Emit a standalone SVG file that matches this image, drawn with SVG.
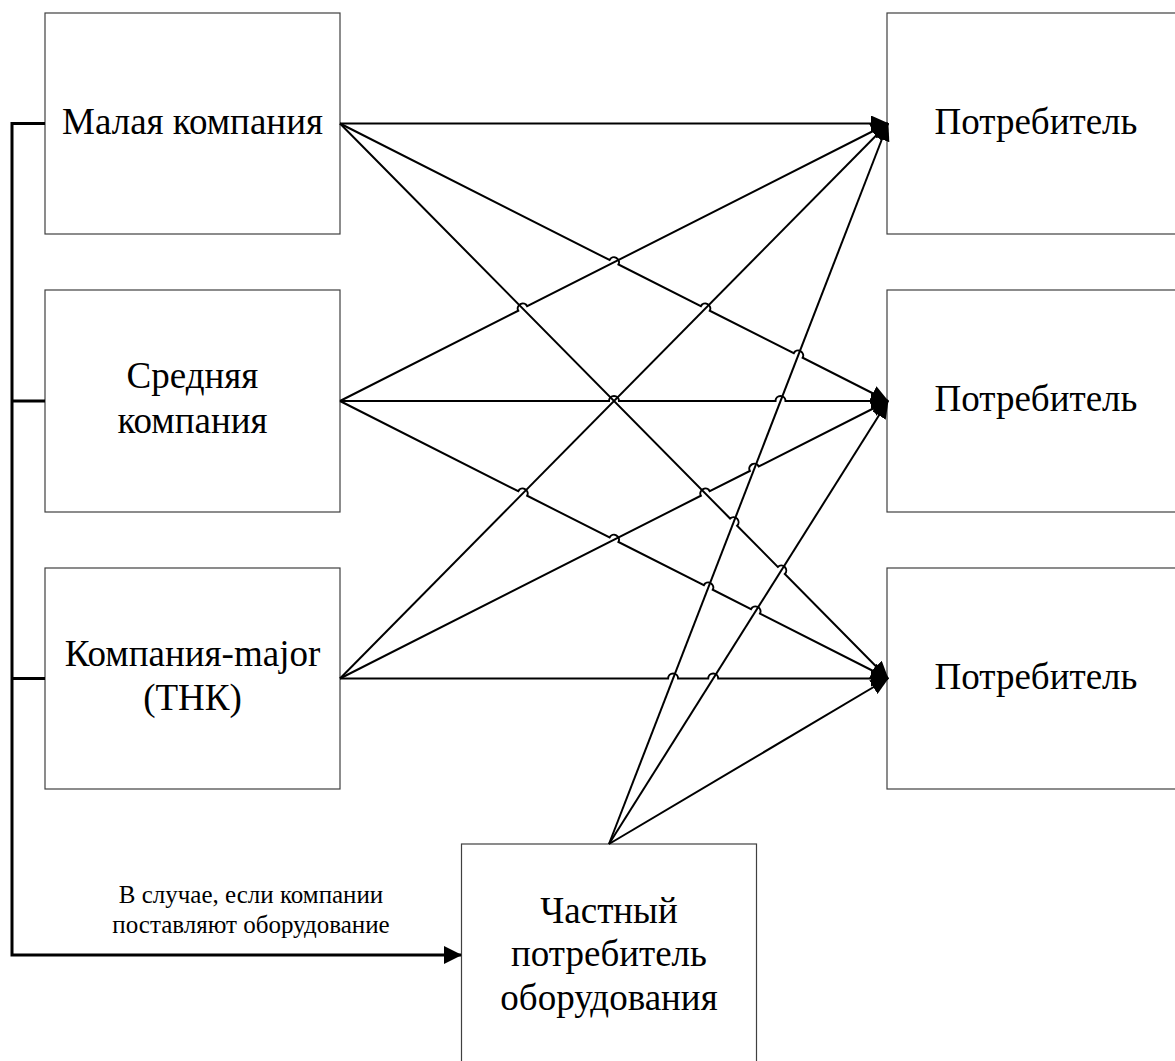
<svg xmlns="http://www.w3.org/2000/svg" width="1175" height="1061" viewBox="0 0 1175 1061">
<style>
.box{fill:#fff;stroke:#404040;stroke-width:1.2}
.con{fill:none;stroke:#000;stroke-width:2;marker-end:url(#ah)}
.feed{fill:none;stroke:#000;stroke-width:3}
</style>
<defs>
<marker id="ah" viewBox="0 0 18 16" refX="17" refY="8" markerWidth="18" markerHeight="16" markerUnits="userSpaceOnUse" orient="auto">
<path d="M0,0 L18,8 L0,16 z" fill="#000"/>
</marker>
<marker id="ah2" viewBox="0 0 18 18" refX="17" refY="9" markerWidth="18" markerHeight="18" markerUnits="userSpaceOnUse" orient="auto">
<path d="M0,0 L18,9 L0,18 z" fill="#000"/>
</marker>
</defs>
<rect width="1175" height="1061" fill="#fff"/>

<g id="n-small">
<rect class="box" x="45" y="13" width="295" height="221"/>
<text x="192.5" y="134" font-family="Liberation Serif" font-size="37" text-anchor="middle">Малая компания</text>
</g>
<g id="n-medium">
<rect class="box" x="45" y="290" width="295" height="222"/>
<text x="192.5" y="388" font-family="Liberation Serif" font-size="37" text-anchor="middle">Средняя</text>
<text x="192.5" y="433" font-family="Liberation Serif" font-size="37" text-anchor="middle">компания</text>
</g>
<g id="n-major">
<rect class="box" x="45" y="568" width="295" height="221"/>
<text x="192.5" y="666" font-family="Liberation Serif" font-size="37" text-anchor="middle">Компания-major</text>
<text x="192.5" y="710" font-family="Liberation Serif" font-size="37" text-anchor="middle">(ТНК)</text>
</g>
<g id="n-cons1">
<rect class="box" x="887" y="13" width="296" height="221"/>
<text x="1036" y="134" font-family="Liberation Serif" font-size="37" text-anchor="middle">Потребитель</text>
</g>
<g id="n-cons2">
<rect class="box" x="887" y="290" width="296" height="222"/>
<text x="1036" y="411" font-family="Liberation Serif" font-size="37" text-anchor="middle">Потребитель</text>
</g>
<g id="n-cons3">
<rect class="box" x="887" y="568" width="296" height="221"/>
<text x="1036" y="689" font-family="Liberation Serif" font-size="37" text-anchor="middle">Потребитель</text>
</g>
<g id="n-private">
<rect class="box" x="461.5" y="844" width="295" height="222"/>
<text x="609" y="923" font-family="Liberation Serif" font-size="37" text-anchor="middle">Частный</text>
<text x="609" y="966" font-family="Liberation Serif" font-size="37" text-anchor="middle">потребитель</text>
<text x="609" y="1010" font-family="Liberation Serif" font-size="37" text-anchor="middle">оборудования</text>
</g>

<g id="connectors">
<path class="feed" d="M45,123.5 H12 V955 H461" marker-end="url(#ah2)"/>
<path class="feed" d="M12,401 H45"/>
<path class="feed" d="M12,678.5 H45"/>
<text x="251" y="903" font-family="Liberation Serif" font-size="25" text-anchor="middle">В случае, если компании</text>
<text x="251" y="933" font-family="Liberation Serif" font-size="25" text-anchor="middle">поставляют оборудование</text>

<path class="con" d="M340,123.5 L888,123.5"/>
<path class="con" d="M340,123.5 L609.54,259.99 A5,5 0 0 1 618.46,264.51 L700.84,306.24 A5,5 0 0 1 709.76,310.76 L793.74,353.24 A5,5 0 0 1 802.66,357.76 L888,401"/>
<path class="con" d="M340,123.5 L730.09,518.54 A5,5 0 0 1 737.11,525.66 L777.79,566.94 A5,5 0 0 1 784.81,574.06 L888,678.5"/>

<path class="con" d="M340,401 L518.24,310.76 A5,5 0 0 1 527.16,306.24 L888,123.5"/>
<path class="con" d="M340,401 L609,401 A5,5 0 0 1 619,401 L775.5,401 A5,5 0 0 1 785.5,401 L888,401"/>
<path class="con" d="M340,401 L518.24,491.24 A5,5 0 0 1 527.16,495.76 L609.54,537.49 A5,5 0 0 1 618.46,542.01 L703.84,585.24 A5,5 0 0 1 712.76,589.76 L751.04,609.14 A5,5 0 0 1 759.96,613.66 L888,678.5"/>

<path class="con" d="M340,678.5 L888,123.5"/>
<path class="con" d="M340,678.5 L700.84,495.76 A5,5 0 0 1 709.76,491.24 L749.84,470.96 A5,5 0 0 1 758.76,466.44 L888,401"/>
<path class="con" d="M340,678.5 L668.1,678.5 A5,5 0 0 1 678.1,678.5 L708.2,678.5 A5,5 0 0 1 718.2,678.5 L888,678.5"/>

<path class="con" d="M609,844 L888,123.5"/>
<path class="con" d="M609,844 L888,401"/>
<path class="con" d="M609,844 L888,678.5"/>
</g>
</svg>
